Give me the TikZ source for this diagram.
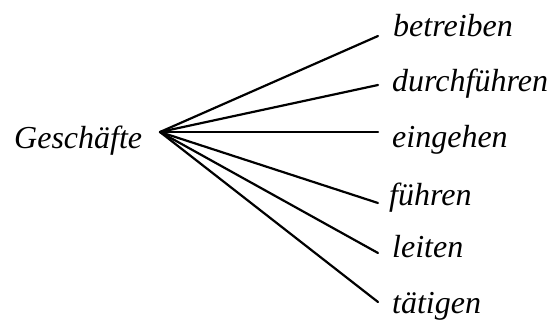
\documentclass[tikz,border=0pt]{standalone}
\usepackage{fontspec}
\setmainfont{Liberation Serif}
\begin{document}
\begin{tikzpicture}[x=1pt,y=-1pt,
  word/.style={anchor=base west,inner sep=0pt,font=\fontsize{32}{32}\selectfont\itshape},
  branch/.style={line width=2.2pt,line cap=round}]
\useasboundingbox (0,0) rectangle (554,321);
\node[word] (g) at (14,148) {Geschäfte};
\coordinate (apex) at (160,132);
\coordinate (e1) at (378,36);
\coordinate (e2) at (378,85);
\coordinate (e3) at (378,132);
\coordinate (e4) at (378,203);
\coordinate (e5) at (378,253);
\coordinate (e6) at (378,302);
\node[word] (w1) at (393,37) {betreiben};
\node[word] (w2) at (392,92) {durchführen};
\node[word] (w3) at (392,147) {eingehen};
\node[word] (w4) at (389,205) {führen};
\node[word] (w5) at (392,257) {leiten};
\node[word] (w6) at (392,313) {tätigen};
\foreach \e in {e1,e2,e3,e4,e5,e6} \draw[branch] (apex) -- (\e);
\end{tikzpicture}
\end{document}
